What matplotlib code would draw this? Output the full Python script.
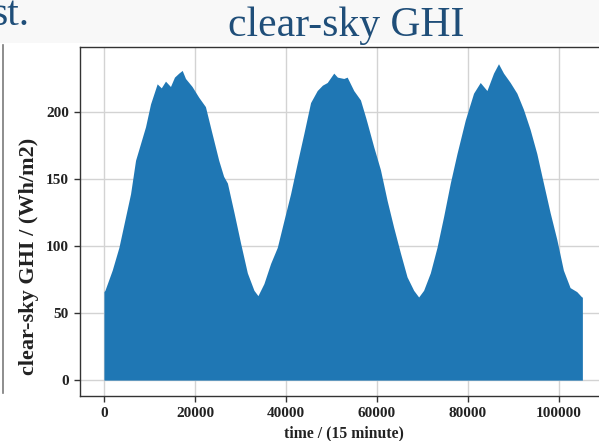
import matplotlib
matplotlib.use("Agg")
import matplotlib.pyplot as plt
from matplotlib.patches import Rectangle
from matplotlib.lines import Line2D

# --- data: upper envelope of clear-sky GHI ---
time_steps = [0, 220, 1820, 3290, 5850, 6950, 9140, 10240, 11700, 12600, 13530, 14620,
              15500, 16450, 17200, 17920, 19370, 20830, 22300, 23750, 25220,
              26300, 27130, 28580, 30040, 31510, 32960, 33840, 35150, 36620,
              38090, 39540, 41010, 42480, 43930, 45400, 46860, 48000, 49060, 50500,
              51300, 52700, 53440, 54890, 56360, 57500, 57830, 59280, 60750,
              62220, 63660, 65130, 66600, 68050, 69150, 70240, 71710, 73180,
              74630, 76100, 77570, 79390, 81210, 82680, 84150, 85600, 86690,
              87790, 89260, 90730, 92170, 93640, 95110, 96560, 98030, 99500,
              100950, 102420, 103890, 104980, 105120]
ghi_values = [66, 67, 82, 99, 139, 164, 189, 206, 221, 218, 223, 219,
              226, 229, 231, 225, 219, 211, 204, 184, 164,
              152, 147, 125, 102, 80, 67, 63, 72, 87,
              99, 119, 139, 162, 184, 207, 216, 220, 222, 229,
              226, 225, 226, 216, 209, 196, 192, 174, 157,
              134, 114, 95, 77, 67, 62, 67, 80, 99,
              122, 147, 169, 194, 214, 222, 216, 229, 236,
              229, 222, 214, 202, 187, 169, 147, 125, 105,
              82, 69, 66, 62, 62]

x_ticks = [0, 20000, 40000, 60000, 80000, 100000]
y_ticks = [0, 50, 100, 150, 200]

W, H = 599, 441
fig = plt.figure(figsize=(W / 100, H / 100), dpi=100)
fig.patch.set_facecolor("white")

# slide background band and the edge of a neighbouring chart
fig.add_artist(Rectangle((0, (H - 43) / H), 1, 43 / H, transform=fig.transFigure,
                         facecolor="#f8f8f8", edgecolor="none", zorder=0))
fig.add_artist(Line2D([2.5 / W, 2.5 / W], [(H - 393) / H, (H - 45) / H],
                      transform=fig.transFigure, color="#7a7a7a", lw=1.2))

left, right, top, bottom = 80, 606.3, 46.5, 396
ax = fig.add_axes([left / W, (H - bottom) / H, (right - left) / W, (bottom - top) / H])

ax.fill_between(time_steps, 0, ghi_values, color="#1f77b4", linewidth=0, zorder=2)

ax.set_xlim(-5256, 110376)
ax.set_ylim(-11.85, 248.85)
ax.set_xticks(x_ticks)
ax.set_yticks(y_ticks)
ax.set_xticklabels([str(v) for v in x_ticks])
ax.set_yticklabels([str(v) for v in y_ticks])
ax.grid(True, color="#d3d3d3", linewidth=1.0, zorder=0)
ax.set_axisbelow(True)

for lbl in ax.get_xticklabels() + ax.get_yticklabels():
    lbl.set_fontfamily("Liberation Serif")
    lbl.set_fontweight("bold")
    lbl.set_fontsize(11)
    lbl.set_color("#222222")
ax.tick_params(axis="both", length=4.5, width=1.0, color="#333333", pad=3.5)
for s in ax.spines.values():
    s.set_color("#333333")
    s.set_linewidth(1.0)

ax.set_xlabel("time / (15 minute)", fontfamily="Liberation Serif", fontweight="bold",
              fontsize=11.3, color="#222222")
ax.xaxis.set_label_coords(0.5007, -0.106)
ax.xaxis.label.set_va("center")
ax.set_ylabel("clear-sky GHI / (Wh/m2)", fontfamily="Liberation Serif", fontweight="bold",
              fontsize=16, color="#222222")
ax.yaxis.set_label_coords(-0.097, 0.40)
ax.yaxis.label.set_va("center")

fig.text(346 / W, (H - 36) / H, "clear-sky GHI", fontfamily="Liberation Serif",
         fontsize=30, color="#1F4E79", ha="center", va="baseline")
fig.text(29 / W, (H - 25) / H, "st.", fontfamily="Liberation Serif",
         fontsize=30, color="#1F4E79", ha="right", va="baseline")

fig.savefig("out.png", dpi=100, facecolor=fig.get_facecolor())
